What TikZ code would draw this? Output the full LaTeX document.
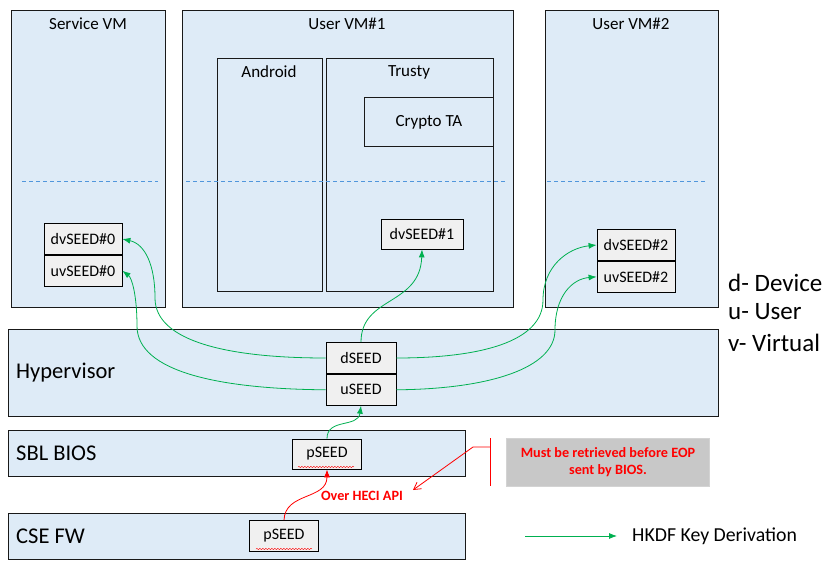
\documentclass[tikz,border=0pt]{standalone}
\usepackage{fontspec}
\setmainfont{Carlito}
\usetikzlibrary{positioning,calc,arrows.meta,decorations.pathmorphing}
\definecolor{vmblue}{RGB}{222,235,247}
\definecolor{seedgray}{RGB}{240,240,240}
\definecolor{notegray}{RGB}{200,200,200}
\definecolor{hkdfgreen}{RGB}{0,176,80}
\definecolor{dashblue}{RGB}{80,150,220}
\tikzset{
  region/.style={draw=black!90, fill=vmblue, line width=0.9pt, inner sep=0pt, anchor=north west},
  title/.style={font=\fontsize{17}{19}\selectfont, inner sep=0pt},
  big/.style={font=\fontsize{22.5}{24}\selectfont, inner sep=0pt, anchor=west},
  seed/.style={draw, fill=seedgray, line width=0.8pt, inner sep=0pt,
    minimum width=78pt, minimum height=31pt, font=\fontsize{16}{18}\selectfont},
  hkdf/.style={draw=hkdfgreen, line width=0.8pt, -{Latex[length=8pt,width=6pt]}},
  heci/.style={draw=red, line width=0.8pt, -{Latex[length=8pt,width=6pt]}},
  sep/.style={draw=dashblue, dash pattern=on 4pt off 3pt, line width=0.6pt},
  redtext/.style={text=red, font=\bfseries\fontsize{14.2}{17}\selectfont, align=center},
  spell/.style={draw=red, line width=0.4pt, decorate,
    decoration={snake, amplitude=0.7pt, segment length=3pt}}
}
\begin{document}
\begin{tikzpicture}[x=1pt,y=-1pt]
  \useasboundingbox (0,0) rectangle (838,578);
  % virtual machines
  \node[region, minimum width=154pt, minimum height=297pt] (svm) at (11,10) {};
  \node[region, minimum width=331pt, minimum height=297pt] (uvm1) at (182,10) {};
  \node[region, minimum width=173pt, minimum height=297pt] (uvm2) at (545,10) {};
  \node[title] at (88,24) {Service VM};
  \node[title] at (347,24) {User VM\#1};
  \node[title] at (631,24) {User VM\#2};
  \node[region, minimum width=105pt, minimum height=233pt] (android) at (217,58) {};
  \node[region, minimum width=167pt, minimum height=233pt] (trusty) at (326,58) {};
  \node[title] at (269,72) {Android};
  \node[title] at (409,72) {Trusty};
  \node[region, minimum width=129pt, minimum height=49pt] (crypto) at (364,97) {};
  \node[title] at (crypto.center) {Crypto TA};
  \draw[sep] (22,181) -- (158,181);
  \draw[sep] (186,181) -- (507,181);
  \draw[sep] (547,181) -- (705,181);
  % seeds in the VMs
  \node[seed] (dv0) at (83,239) {dvSEED\#0};
  \node[seed, below=0pt of dv0] (uv0) {uvSEED\#0};
  \node[seed, minimum width=82pt, minimum height=30pt] (dv1) at (422,234) {dvSEED\#1};
  \node[seed] (dv2) at (636,245) {dvSEED\#2};
  \node[seed, below=0pt of dv2] (uv2) {uvSEED\#2};
  % lower layers
  \node[region, minimum width=710pt, minimum height=87pt] (hyp) at (8,329) {};
  \node[big] at (16,373) {Hypervisor};
  \node[region, minimum width=457pt, minimum height=46pt] (bios) at (8,430) {};
  \node[big] at (16,453) {SBL BIOS};
  \node[region, minimum width=457pt, minimum height=46pt] (cse) at (8,513) {};
  \node[big] at (16,536) {CSE FW};
  \node[seed, minimum width=70pt] (dseed) at (361,358) {dSEED};
  \node[seed, minimum width=70pt, below=0pt of dseed] (useed) {uSEED};
  \node[seed, minimum width=69pt, minimum height=30pt] (pbios) at (327,454) {pSEED};
  \node[seed, minimum width=69pt] (pcse) at (284,536) {pSEED};
  \draw[spell] (298,467) -- (354,467);
  \draw[spell] (256,549) -- (312,549);
  % legend
  \node[big, font=\fontsize{25}{27}\selectfont] at (728,283) {d- Device};
  \node[big, font=\fontsize{25}{27}\selectfont] at (728,312) {u- User};
  \node[big, font=\fontsize{25}{27}\selectfont] at (728,343) {v- Virtual};
  \coordinate (legA) at (525,536);
  \coordinate (legB) at (617,536);
  \draw[hkdf] (legA) -- (legB);
  \node[anchor=west, inner sep=0pt, font=\fontsize{19.8}{22}\selectfont] at (632,536) {HKDF Key Derivation};
  % note
  \node[fill=notegray, draw=notegray!80!white, minimum width=203pt, minimum height=48pt,
    inner sep=0pt, redtext] (note) at (608,462) {Must be retrieved before EOP\\sent by BIOS.};
  \node[redtext, inner sep=0pt] (overheci) at (362,496) {Over HECI API};
  \coordinate (barT) at (490,438);
  \coordinate (barB) at (490,486);
  \coordinate (barK) at (490,447);
  \coordinate (barL) at (473,447);
  \coordinate (heciTip) at (413,490);
  \draw[red, line width=0.8pt] (barT) -- (barB);
  \draw[red, line width=0.8pt, -{Straight Barb[length=7pt,width=8pt]}] (barK) -- (barL) -- (heciTip);
  % derivation
  \draw[heci] (pcse.north) .. controls (285,492) and (327,500) .. (pbios.south);
  \draw[hkdf] (pbios.north) .. controls (327,418) and (358,428) .. (useed.south);
  \draw[hkdf] (dseed.west) .. controls (230,358) and (155,342) .. (155,298)
    .. controls (155,265) and (145,244) .. (dv0.east);
  \draw[hkdf] (useed.west) .. controls (220,389) and (137,372) .. (137,326)
    .. controls (137,296) and (132,278) .. (uv0.east);
  \draw[hkdf] (dseed.north) .. controls (361,296) and (420,306) .. (dv1.south);
  \draw[hkdf] (dseed.east) .. controls (480,358) and (543,342) .. (543,300)
    .. controls (543,266) and (568,248) .. (dv2.west);
  \draw[hkdf] (useed.east) .. controls (490,389) and (555,368) .. (555,330)
    .. controls (555,296) and (572,279) .. (uv2.west);
\end{tikzpicture}
\end{document}
